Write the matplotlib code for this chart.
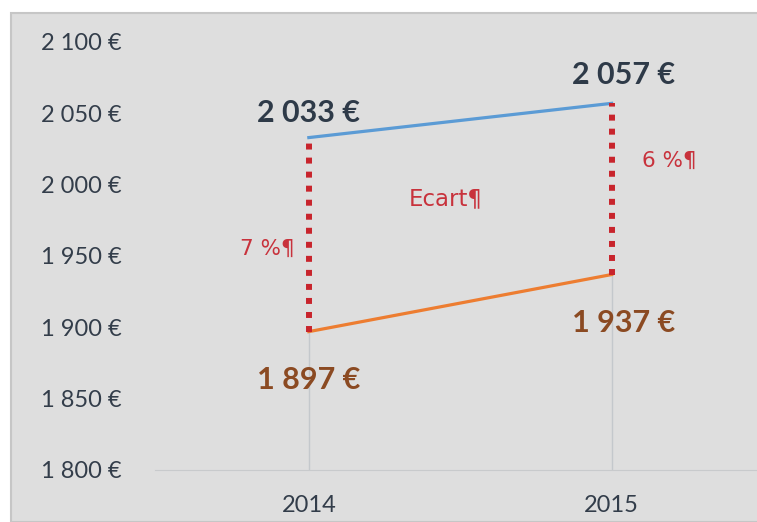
import matplotlib
matplotlib.use('Agg')
import matplotlib.pyplot as plt
from matplotlib import font_manager
from matplotlib.patches import Rectangle

# data
years = ['2014', '2015']
haut = [2033, 2057]   # blue series
bas = [1897, 1937]    # orange series
ecarts = ['7 %¶', '6 %¶']
yticks = [1800, 1850, 1900, 1950, 2000, 2050, 2100]


def fmt(v):
    s = f'{v:,}'.replace(',', ' ')
    return s + ' €'


def pick(names):
    have = {f.name for f in font_manager.fontManager.ttflist}
    for n in names:
        if n in have:
            return n
    return 'DejaVu Sans'


narrow = pick(['Liberation Sans Narrow', 'Lato', 'Open Sans'])
boldfam = pick(['Lato', 'Open Sans', 'DejaVu Sans'])

fig = plt.figure(figsize=(7.57, 5.22), dpi=100, facecolor='white')
# grey panel behind the chart
fig.patches.append(Rectangle((11 / 757, 0), 1, 1 - 13 / 522, transform=fig.transFigure,
                             facecolor='#dedede', edgecolor='#c6c6c6', linewidth=1.5, zorder=-5))

ax = fig.add_axes([155 / 757, 1 - 470 / 522, 1 - 155 / 757, (470 - 42) / 522])
ax.set_zorder(2)
ax.set_facecolor('none')
x = list(range(len(years)))

ax.plot(x, haut, color='#5b9bd5', linewidth=2.3, zorder=3)
ax.plot(x, bas, color='#ed7d31', linewidth=2.3, zorder=3)

# drop lines down to the axis
ax.vlines(x, 1800, bas, color='#c4c8cc', linewidth=1, zorder=1)

# red dotted gap lines
for i in x:
    ax.plot([i, i], [bas[i], haut[i]], color='#c8242c', linewidth=4.3,
            linestyle=(0, (1, 1.35)), zorder=4)

ax.set_xlim(-0.508, 1.48)
ax.set_ylim(1800, 2100)
ax.set_yticks(yticks)
ax.set_yticklabels([fmt(v) for v in yticks])
ax.set_xticks(x)
ax.set_xticklabels(years)
for sp in ['top', 'right', 'left']:
    ax.spines[sp].set_visible(False)
ax.spines['bottom'].set_color('#c8cacc')
ax.tick_params(length=0, labelsize=17, labelcolor='#333d4a')
ax.tick_params(axis='y', pad=24)
ax.tick_params(axis='x', pad=18)
for lab in ax.get_xticklabels() + ax.get_yticklabels():
    lab.set_fontfamily(narrow)

# value labels
ax.text(0, 2050, fmt(haut[0]), ha='center', va='center', fontsize=22,
        fontweight='bold', color='#2e3a48', family=boldfam)
ax.text(1.04, 2077, fmt(haut[1]), ha='center', va='center', fontsize=22,
        fontweight='bold', color='#2e3a48', family=boldfam)
ax.text(0, 1863, fmt(bas[0]), ha='center', va='center', fontsize=22,
        fontweight='bold', color='#8b4a22', family=boldfam)
ax.text(1.04, 1903, fmt(bas[1]), ha='center', va='center', fontsize=22,
        fontweight='bold', color='#8b4a22', family=boldfam)

# red annotations
ax.text(-0.047, 1955, ecarts[0], ha='right', va='center', fontsize=15.5, color='#c8323c')
ax.text(1.10, 2017, ecarts[1], ha='left', va='center', fontsize=15.5, color='#c8323c')
ax.text(0.452, 1990, 'Ecart¶', ha='center', va='center', fontsize=16.5, color='#c8323c')

fig.savefig('out.png', dpi=100, facecolor='white')
